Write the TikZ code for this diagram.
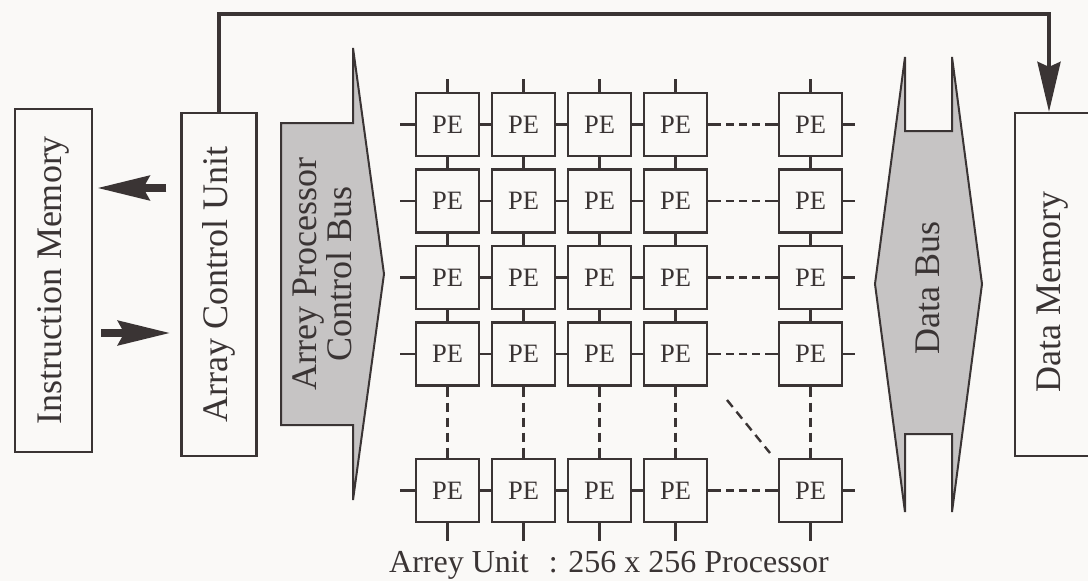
\documentclass[tikz,border=0pt]{standalone}
\usepackage{fontspec}
\setmainfont{Liberation Serif}
\usetikzlibrary{arrows.meta,calc}
\definecolor{ink}{RGB}{58,52,52}
\definecolor{busfill}{RGB}{198,196,196}
\definecolor{bg}{RGB}{250,249,247}
\newcommand\fbig{\fontsize{36}{38}\selectfont}
\newcommand\fmid{\fontsize{32}{36}\selectfont}
\newcommand\fpe{\fontsize{26.5}{30}\selectfont}
\begin{document}
\begin{tikzpicture}[x=1pt,y=-1pt,
  every node/.style={text=ink},
  unitbox/.style={draw=ink,line width=2.2pt,inner sep=0pt},
  pebox/.style={draw=ink,line width=2.4pt,inner sep=0pt,minimum width=63pt,minimum height=63pt,font=\fpe},
  wire/.style={draw=ink,line width=2.4pt},
  hdash/.style={dash pattern=on 13pt off 5pt on 8pt off 5pt on 8pt off 5pt on 8pt off 5pt on 30pt off 0.01pt},
  vdash/.style={dash pattern=on 10pt off 6pt on 9pt off 6pt on 9pt off 6pt on 9pt off 6pt on 30pt off 0.01pt},
  bus/.style={draw=ink,line width=2pt,fill=busfill,line join=miter},
  fat/.style={draw=ink,line width=8pt,-{Stealth[length=52pt,width=24pt,inset=6pt]}},
  conn/.style={draw=ink,line width=4pt,line join=miter,-{Stealth[length=50pt,width=23pt,inset=5pt]}}]
\useasboundingbox[fill=bg] (0,0) rectangle (1088,581);

% memory and control boxes
\node[unitbox,minimum width=77pt,minimum height=343pt] (im) at (53.5,280.5) {};
\node[rotate=90,font=\fbig] (imtext) at (im) {Instruction Memory};
\node[unitbox,minimum width=75pt,minimum height=343pt] (acu) at (219,284.5) {};
\node[rotate=90,font=\fbig] (acutext) at (acu) {Array Control Unit};
\node[unitbox,minimum width=76pt,minimum height=343pt] (dm) at (1053,284.5) {};
\node[rotate=90,font=\fbig] (dmtext) at (1053,292) {Data Memory};

% arrows between instruction memory and control unit
\draw[fat] ([xshift=-14pt,yshift=96.5pt]acu.west) -- ([xshift=4pt,yshift=92.5pt]im.east);
\draw[fat] ([xshift=8pt,yshift=-52.5pt]im.east) -- ([xshift=-10pt,yshift=-48.5pt]acu.west);

% top connector
\draw[conn] (acu.north) -- ++(0,-98) -| ([xshift=-4pt]dm.north);

% array processor control bus
\draw[bus] (281,123) -- (353,123) -- (353,48) -- (384,274) -- (353,500) -- (353,425) -- (281,425) -- cycle;
\node[rotate=90,font=\fbig,align=center] (apcb) at (322,274) {Arrey Processor\\[-3pt]Control Bus};

% data bus
\draw[bus] (905,57) -- (905,131) -- (952,131) -- (952,57) -- (982,284) -- (952,512) -- (952,434) -- (905,434) -- (905,512) -- (875,284) -- cycle;
\node[rotate=90,font=\fbig] (dbus) at (928,288) {Data Bus};

% PE grid
\foreach \c/\x in {1/447.5,2/523.5,3/599.5,4/675.5,5/810.5}
  \foreach \r/\y in {1/124.5,2/201,3/277.5,4/354,5/490.5}
    \node[pebox] (pe-\r-\c) at (\x,\y) {PE};

\foreach \r in {1,...,5}{
  \draw[wire] (pe-\r-1.west) -- ++(-15,0);
  \draw[wire] (pe-\r-5.east) -- ++(12,0);
  \foreach \c [count=\n from 2] in {1,2,3}
    \draw[wire] (pe-\r-\c.east) -- (pe-\r-\n.west);
  \draw[wire,hdash] (pe-\r-4.east) -- (pe-\r-5.west);
}
\foreach \c in {1,...,5}{
  \draw[wire] (pe-1-\c.north) -- ++(0,-13);
  \draw[wire] (pe-5-\c.south) -- ++(0,18);
  \foreach \r [count=\n from 2] in {1,2,3}
    \draw[wire] (pe-\r-\c.south) -- (pe-\n-\c.north);
  \draw[wire,vdash] (pe-4-\c.south) -- (pe-5-\c.north);
}
\coordinate (diagA) at (727,400);
\coordinate (diagB) at (770,453);
\draw[wire,dash pattern=on 9pt off 6pt] (diagA) -- (diagB);

\node[font=\fmid,anchor=base] (caption) at (609,572) {Arrey Unit\hspace{0.38em} : 256 x 256 Processor};
\end{tikzpicture}
\end{document}
